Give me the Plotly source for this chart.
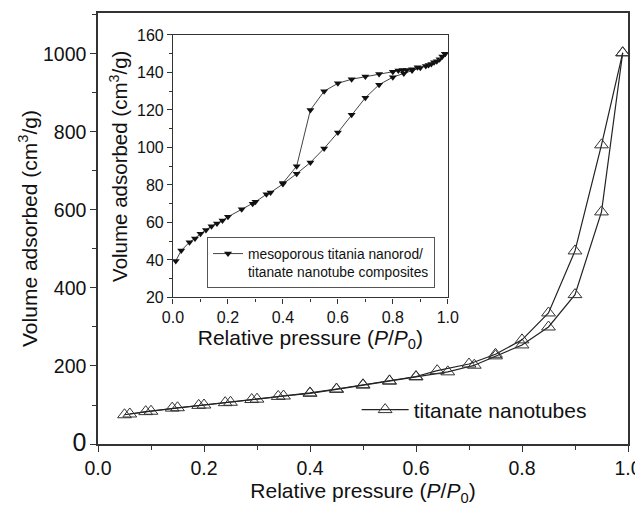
import plotly.graph_objects as go

# Main chart: titanate nanotubes (adsorption / desorption branches)
main_ads_x = [0.05, 0.10, 0.15, 0.20, 0.25, 0.30, 0.35, 0.40, 0.45, 0.50, 0.55, 0.60,
              0.66, 0.71, 0.75, 0.80, 0.85, 0.90, 0.95, 0.99]
main_ads_y = [75, 84, 93, 100, 107, 115, 123, 130, 140, 151, 161, 172,
              185, 202, 226, 254, 300, 383, 595, 1003]
main_des_x = [0.99, 0.95, 0.90, 0.85, 0.80, 0.75, 0.70, 0.64, 0.60, 0.55, 0.50, 0.45,
              0.40, 0.34, 0.29, 0.24, 0.19, 0.14, 0.09, 0.06]
main_des_y = [1003, 767, 495, 336, 267, 230, 205, 188, 173, 162, 152, 141,
              131, 122, 114, 106, 99, 92, 83, 77]

# Main y tick labels (the "0" is drawn larger in the original)
main_y_tickvals = [0, 200, 400, 600, 800, 1000]
main_y_ticktext = ["<span style='font-size:25px'>0</span>", "200", "400", "600", "800", "1000"]

# Inset: mesoporous titania nanorod / titanate nanotube composites
ins_ads_x = [0.01, 0.03, 0.06, 0.08, 0.10, 0.12, 0.14, 0.16, 0.18, 0.20, 0.25, 0.29,
             0.30, 0.34, 0.355, 0.40, 0.45, 0.50, 0.55, 0.60, 0.65, 0.70, 0.75, 0.80,
             0.84, 0.87, 0.90, 0.93, 0.95, 0.97, 0.99]
ins_ads_y = [39.5, 45, 49.5, 51.5, 54, 56, 58, 59.5, 61, 63, 67, 70,
             71, 75, 76, 80.5, 86, 92, 99.5, 108, 117.5, 126.5, 133.5, 137.5,
             139.5, 141, 142.5, 144, 145.5, 147, 150]
ins_des_x = [0.99, 0.98, 0.96, 0.94, 0.92, 0.89, 0.87, 0.85, 0.835, 0.82, 0.80, 0.75,
             0.70, 0.65, 0.60, 0.55, 0.50, 0.45, 0.40]
ins_des_y = [150, 148.5, 146, 144.5, 143.5, 142.8, 141.7, 141.3, 141.3, 141, 140.4, 139.2,
             137.8, 136.4, 134.2, 130, 120, 90, 81]

main_name = "titanate nanotubes"
inset_name = "mesoporous titania nanorod/<br>titanate nanotube composites"

FONT = "Liberation Sans, Arial, sans-serif"
INK = "#222222"
AX = "#333333"

fig = go.Figure()

main_marker = dict(symbol="triangle-up-open", size=12, color=AX, line=dict(width=1, color=AX))
fig.add_trace(go.Scatter(x=main_ads_x, y=main_ads_y, mode="lines+markers", name=main_name,
                         line=dict(color=INK, width=1.2), marker=main_marker,
                         legendgroup="m", legend="legend"))
fig.add_trace(go.Scatter(x=main_des_x, y=main_des_y, mode="lines+markers", name=main_name,
                         line=dict(color=INK, width=1.2), marker=main_marker,
                         legendgroup="m", showlegend=False))

ins_marker = dict(symbol="triangle-down", size=7, color="#111111")
fig.add_trace(go.Scatter(x=ins_ads_x, y=ins_ads_y, mode="lines+markers", name=inset_name,
                         xaxis="x2", yaxis="y2",
                         line=dict(color="#444444", width=1), marker=ins_marker,
                         legendgroup="i", legend="legend2"))
fig.add_trace(go.Scatter(x=ins_des_x, y=ins_des_y, mode="lines+markers", name=inset_name,
                         xaxis="x2", yaxis="y2",
                         line=dict(color="#444444", width=1), marker=ins_marker,
                         legendgroup="i", showlegend=False, legend="legend2"))

axis_common = dict(showgrid=False, zeroline=False, showline=True, linecolor=AX,
                   mirror=True, ticks="outside", tickcolor=AX, automargin=False)

# The page body adds an 8 px offset, so the figure is 8 px smaller than the window.
fig.update_layout(
    width=635, height=504,
    margin=dict(l=90, r=15, t=5, b=68),
    paper_bgcolor="white", plot_bgcolor="white",
    font=dict(family=FONT, color="#111111"),
    xaxis=dict(range=[0, 1.0], dtick=0.2, tickformat=".1f", linewidth=1.5, ticklen=6,
               tickfont=dict(size=19.5),
               minor=dict(dtick=0.1, ticklen=4, ticks="outside", tickcolor=AX),
               title=dict(text="Relative pressure (<i>P</i>/<i>P</i><sub>0</sub>)",
                          font=dict(size=21), standoff=4),
               **axis_common),
    yaxis=dict(range=[0, 1105], tickmode="array", tickvals=main_y_tickvals,
               ticktext=main_y_ticktext, linewidth=1.5, ticklen=6,
               tickfont=dict(size=19.5),
               minor=dict(dtick=100, tick0=0, ticklen=4, ticks="outside", tickcolor=AX),
               title=dict(text="Volume adsorbed (cm<sup>3</sup>/g)",
                          font=dict(size=21), standoff=0),
               **axis_common),
    xaxis2=dict(domain=[0.1415, 0.660], anchor="y2", range=[0, 1.0], dtick=0.2,
                tickformat=".1f", linewidth=1.2, ticklen=5, tickfont=dict(size=16),
                minor=dict(dtick=0.1, ticklen=3, ticks="outside", tickcolor=AX),
                title=dict(text="Relative pressure (<i>P</i>/<i>P</i><sub>0</sub>)",
                           font=dict(size=21), standoff=0),
                **axis_common),
    yaxis2=dict(domain=[0.340, 0.949], anchor="x2", range=[20, 160], dtick=20,
                linewidth=1.2, ticklen=5, tickfont=dict(size=16),
                minor=dict(dtick=10, ticklen=3, ticks="outside", tickcolor=AX),
                title=dict(text="Volume adsorbed (cm<sup>3</sup>/g)",
                           font=dict(size=20.5), standoff=3),
                **axis_common),
    legend=dict(x=0.488, y=0.079, xanchor="left", yanchor="middle",
                bgcolor="rgba(0,0,0,0)", borderwidth=0,
                font=dict(size=21, color="#111111"), itemwidth=47),
    legend2=dict(x=0.2057, y=0.480, xanchor="left", yanchor="top",
                 bgcolor="white", bordercolor="#555555", borderwidth=1,
                 font=dict(size=13.8, color="#111111"), valign="top", itemwidth=30),
)

fig.write_html("out.html")
